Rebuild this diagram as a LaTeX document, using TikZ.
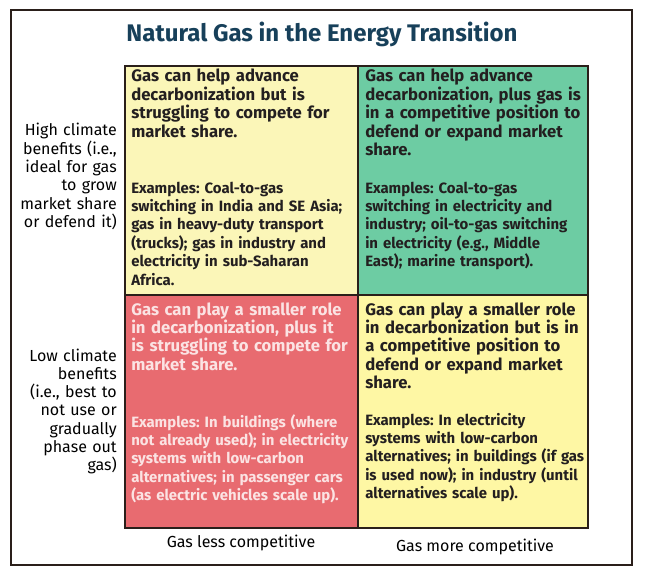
\documentclass[tikz,border=0pt]{standalone}
\usepackage{fontspec}
\setmainfont{Fira Sans}
\usepackage{xcolor}
\usepackage{tikz}
\frenchspacing

\definecolor{titleblue}{HTML}{17405A}
\definecolor{paleyellow}{HTML}{FBF6B8}
\definecolor{brightyellow}{HTML}{FEF7A4}
\definecolor{mintgreen}{HTML}{6DCCA3}
\definecolor{coralred}{HTML}{E86B70}
\definecolor{celltext}{HTML}{231F20}
\definecolor{redtext}{HTML}{FBE3E3}
\definecolor{gridline}{HTML}{2A1F1A}

\tikzset{
  cell/.style={draw=gridline, line width=1.5pt, inner sep=0pt},
  headtxt/.style={anchor=base west, align=left, text width=178pt, inner sep=0pt,
    text=celltext, font=\fontsize{12.5}{13.8}\selectfont\bfseries},
  extxt/.style={anchor=base west, align=left, text width=178pt, inner sep=0pt,
    text=celltext, font=\fontsize{11.2}{13.8}\selectfont\bfseries},
  sidelabel/.style={anchor=base east, align=right, text width=85pt, inner sep=0pt,
    font=\fontsize{12}{13.7}\selectfont},
  axislabel/.style={anchor=base, inner sep=0pt, font=\fontsize{12}{14}\selectfont}
}

\begin{document}
\begin{tikzpicture}[x=0.75pt, y=-0.75pt]
        \useasboundingbox[fill=white] (0,0) rectangle (649,581);

        % Outer frame
        \draw[gridline, line width=1.5pt] (11,10) rectangle (632,565);

        % Title
        \node[font=\fontsize{18}{20}\selectfont\bfseries, text=titleblue, anchor=base] (title) at (322,42) {Natural Gas in the Energy Transition};

        % Quadrants: climate benefit (rows) x competitiveness (columns)
        \node[cell, fill=paleyellow, minimum width=174.75pt, minimum height=171.75pt] (hiless) at (241.5,180.5) {};
        \node[cell, fill=mintgreen, minimum width=172.5pt, minimum height=171.75pt] (himore) at (473,180.5) {};
        \node[cell, fill=coralred, minimum width=174.75pt, minimum height=174.75pt] (loless) at (241.5,411.5) {};
        \node[cell, fill=brightyellow, minimum width=172.5pt, minimum height=174.75pt] (lomore) at (473,411.5) {};

        % High benefits, less competitive
        \node[headtxt] (hilesshead) at (131,82) {Gas can help advance\\decarbonization but is\\struggling to compete for\\market share.};
        \node[extxt] (hilessex) at (131,193) {Examples: Coal-to-gas\\switching in India and SE Asia;\\gas in heavy-duty transport\\(trucks); gas in industry and\\electricity in sub-Saharan\\Africa.};

        % High benefits, more competitive
        \node[headtxt] (himorehead) at (365,82) {Gas can help advance\\decarbonization, plus gas is\\in a competitive position to\\defend or expand market\\share.};
        \node[extxt] (himoreex) at (365,193) {Examples: Coal-to-gas\\switching in electricity and\\industry; oil-to-gas switching\\in electricity (e.g., Middle\\East); marine transport).};

        % Low benefits, less competitive
        \node[headtxt, text=redtext] (lolesshead) at (131,315) {Gas can play a smaller role\\in decarbonization, plus it\\is struggling to compete for\\market share.};
        \node[extxt, text=redtext] (lolessex) at (131,427) {Examples: In buildings (where\\not already used); in electricity\\systems with low-carbon\\alternatives; in passenger cars\\(as electric vehicles scale up).};

        % Low benefits, more competitive
        \node[headtxt] (lomorehead) at (365,315) {Gas can play a smaller role\\in decarbonization but is in\\a competitive position to\\defend or expand market\\share.};
        \node[extxt] (lomoreex) at (365,425) {Examples: In electricity\\systems with low-carbon\\alternatives; in buildings (if gas\\is used now); in industry (until\\alternatives scale up).};

        % Row labels
        \node[sidelabel] (hilabel) at (117,136) {High climate\\benefits (i.e.,\\ideal for gas\\to grow\\market share\\or defend it)};
        \node[sidelabel] (lolabel) at (117,361) {Low climate\\benefits\\(i.e., best to\\not use or\\gradually\\phase out\\gas)};

        % Column labels
        \node[axislabel] (lesslabel) at (241,547) {Gas less competitive};
        \node[axislabel] (morelabel) at (475,551) {Gas more competitive};
    \end{tikzpicture}
\end{document}
